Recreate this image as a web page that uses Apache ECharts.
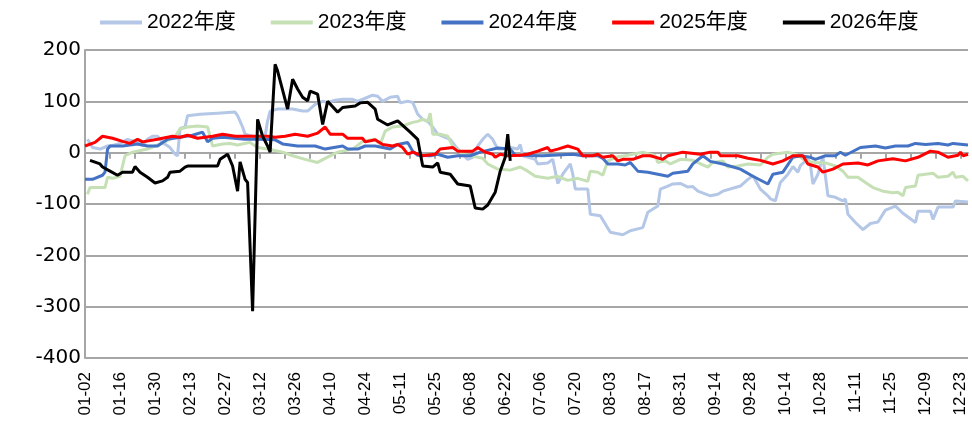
<!DOCTYPE html>
<html>
<head>
<meta charset="utf-8">
<script src="https://cdn.jsdelivr.net/npm/echarts@6/dist/echarts.min.js"></script>
<style>
    html, body { margin: 0; padding: 0; background: #fff; }
    #main { width: 972px; height: 421px; }
</style>
</head>
<body>
<div id="main"></div>
<script>
    // x轴：按2024年日历（闰年）逐日，去掉几个节假日
    var firstDay = '2024-01-02', lastDay = '2024-12-26';
    var skipDays = ['04-04', '05-01', '05-02', '05-03', '10-01', '10-02'];

    var yMin = -400, yMax = 200, yStep = 100;

    var names = ['2022年度', '2023年度', '2024年度', '2025年度', '2026年度'];
    var colors = ['#b4c7e7', '#c5e0b4', '#4472c4', '#ff0000', '#000000'];

    // 每条线的折点 [分类序号, 数值]
    var y2022 = [[1,26],[3,10],[6,7],[9,13],[11,14],[14,18],[17,26],[19,23],[23,14],[25,26],[27,32],[29,32],[31,20],[34,10],[36,-3],[37,-6],[38,47],[40,50],[41,72],[46,75],[53,77],[60,79],[61,72],[63,50],[64,36],[67,32],[71,26],[72,32],[73,62],[74,81],[77,85],[83,85],[87,81],[89,81],[92,94],[95,100],[97,98],[100,102],[103,104],[107,104],[109,100],[112,106],[115,112],[117,110],[119,100],[122,108],[125,110],[126,97],[129,100],[131,98],[133,75],[135,65],[137,61],[139,50],[141,36],[143,32],[146,26],[148,13],[151,-3],[153,-13],[155,-9],[157,13],[159,26],[161,36],[163,26],[165,7],[167,7],[170,10],[173,7],[174,16],[175,-6],[180,-13],[181,-22],[185,-20],[187,-13],[189,-60],[191,-42],[194,-22],[195,-42],[196,-71],[201,-71],[202,-120],[206,-123],[210,-155],[215,-160],[218,-152],[223,-146],[225,-116],[229,-104],[230,-71],[233,-65],[235,-61],[238,-60],[241,-67],[243,-66],[245,-75],[250,-84],[253,-81],[255,-75],[262,-65],[265,-52],[267,-45],[270,-71],[273,-84],[274,-90],[276,-94],[278,-58],[281,-42],[283,-27],[285,-38],[286,-25],[289,-12],[290,-24],[291,-61],[293,-42],[295,-8],[297,-84],[300,-87],[303,-94],[304,-90],[305,-120],[308,-136],[311,-150],[314,-138],[317,-135],[320,-112],[324,-104],[327,-118],[332,-136],[333,-114],[338,-114],[339,-130],[341,-106],[347,-106],[348,-94],[353,-96]];

    var y2023 = [[1,-81],[2,-68],[8,-68],[9,-48],[11,-50],[14,-46],[15,-26],[16,-6],[19,1],[25,7],[28,13],[32,21],[36,32],[38,46],[41,50],[45,52],[49,50],[51,13],[55,17],[58,18],[61,15],[66,20],[69,10],[73,7],[79,1],[83,-6],[88,-13],[93,-19],[96,-11],[101,1],[107,7],[111,22],[116,26],[118,16],[120,42],[123,50],[127,52],[131,59],[133,61],[135,65],[137,61],[138,77],[139,36],[142,36],[145,32],[147,13],[151,-3],[154,-6],[159,-11],[161,-22],[165,-32],[170,-34],[174,-28],[177,-36],[180,-46],[185,-50],[189,-46],[193,-54],[197,-50],[201,-56],[202,-36],[205,-38],[207,-44],[209,-16],[212,-9],[217,-5],[223,1],[228,-6],[229,-19],[232,-16],[234,-22],[238,-13],[243,-15],[249,-28],[251,-19],[255,-16],[257,-28],[261,-26],[265,-22],[270,-24],[273,-9],[275,-3],[281,1],[285,-5],[288,-16],[292,-19],[296,-20],[300,-26],[303,-36],[305,-48],[309,-48],[312,-58],[315,-68],[319,-75],[323,-78],[325,-77],[327,-84],[328,-68],[332,-65],[333,-44],[339,-40],[341,-48],[345,-46],[347,-38],[348,-48],[351,-46],[353,-55]];

    var y2024 = [[0,-52],[3,-52],[7,-44],[8,-38],[9,7],[10,13],[15,13],[18,15],[21,17],[25,13],[29,13],[33,26],[38,30],[43,34],[47,40],[49,21],[51,28],[55,30],[64,26],[69,26],[76,25],[79,17],[85,13],[92,13],[96,7],[103,13],[105,7],[109,7],[112,13],[116,13],[119,10],[122,7],[125,16],[127,18],[129,20],[131,3],[133,-5],[138,-6],[141,-3],[145,-9],[149,-6],[154,-6],[158,1],[165,9],[170,7],[172,-5],[183,-6],[195,-3],[199,-6],[205,-6],[207,-11],[209,-22],[213,-22],[216,-24],[218,-19],[221,-36],[225,-38],[229,-42],[233,-46],[235,-40],[241,-36],[243,-22],[247,-6],[250,-17],[255,-22],[262,-32],[267,-46],[273,-61],[275,-42],[279,-38],[283,-9],[286,-6],[290,-9],[292,-13],[296,-6],[300,-6],[302,1],[304,-5],[310,10],[316,13],[320,9],[324,13],[329,13],[332,18],[336,16],[341,18],[345,15],[347,18],[353,15]];

    var y2025 = [[0,13],[4,20],[7,32],[11,28],[15,22],[18,18],[21,26],[23,21],[29,26],[35,32],[38,30],[41,34],[45,28],[51,32],[55,36],[60,32],[67,32],[73,32],[76,30],[80,32],[84,36],[89,32],[93,38],[96,50],[98,36],[103,36],[105,28],[111,28],[112,21],[116,25],[119,16],[123,13],[125,16],[127,10],[129,-3],[131,1],[135,-6],[140,-3],[142,7],[147,10],[149,3],[155,3],[157,10],[160,1],[163,-3],[164,-9],[166,-3],[169,-6],[174,-5],[177,-3],[181,3],[185,10],[186,3],[189,7],[193,13],[197,7],[199,-6],[203,-6],[205,-3],[207,-9],[211,-6],[213,-16],[215,-13],[219,-13],[223,-6],[226,-6],[231,-13],[233,-6],[239,1],[246,-3],[250,1],[253,1],[254,-6],[261,-6],[265,-11],[270,-15],[275,-22],[279,-16],[283,-6],[287,-6],[289,-22],[293,-28],[295,-38],[299,-32],[303,-22],[309,-20],[313,-24],[317,-16],[323,-12],[328,-16],[333,-9],[338,3],[341,1],[345,-9],[349,-5],[350,1],[351,-6],[353,-3]];

    var y2026 = [[2,-15],[6,-22],[7,-28],[10,-36],[13,-44],[15,-38],[19,-38],[20,-27],[22,-38],[25,-48],[28,-59],[31,-55],[33,-48],[34,-38],[38,-36],[40,-28],[41,-26],[53,-26],[54,-13],[57,-3],[59,-26],[61,-75],[62,-18],[64,-52],[65,-58],[67,-309],[69,65],[71,32],[73,13],[74,1],[76,172],[77,159],[81,85],[83,143],[85,124],[87,108],[89,101],[90,120],[93,114],[95,55],[97,100],[101,79],[103,88],[108,91],[110,97],[113,98],[116,85],[117,65],[121,54],[125,62],[130,40],[133,26],[135,-26],[139,-28],[141,-20],[142,-38],[146,-42],[149,-61],[154,-65],[156,-108],[159,-110],[161,-102],[164,-77],[166,-36],[168,-9],[169,36],[170,-16]];

    var allData = [y2022, y2023, y2024, y2025, y2026];

    // 生成日期分类
    var dates = [];
    var d = new Date(firstDay + 'T00:00:00');
    var end = new Date(lastDay + 'T00:00:00');
    while (d <= end) {
        var mm = ('0' + (d.getMonth() + 1)).slice(-2);
        var dd = ('0' + d.getDate()).slice(-2);
        var label = mm + '-' + dd;
        if (skipDays.indexOf(label) < 0) dates.push(label);
        d.setDate(d.getDate() + 1);
    }

    var gray = '#a6a6a6';
    var seriesList = [];
    for (var i = 0; i < names.length; i++) {
        seriesList.push({
            name: names[i],
            type: 'line',
            data: allData[i],
            symbol: 'none',
            smooth: false,
            lineStyle: { color: colors[i], width: 3 },
            itemStyle: { color: colors[i] },
            z: 2 + i
        });
    }

    var chart = echarts.init(document.getElementById('main'));
    var option = {
        animation: false,
        backgroundColor: '#fff',
        textStyle: { fontFamily: 'Liberation Sans, Noto Sans CJK SC, sans-serif' },
        legend: {
            data: names,
            left: 95,
            top: 7,
            icon: 'rect',
            itemWidth: 42,
            itemHeight: 4,
            itemGap: 35,
            textStyle: { fontSize: 21, color: '#000', fontFamily: 'Liberation Sans, Noto Sans CJK SC, sans-serif' }
        },
        grid: { left: 85, right: 4, top: 50, bottom: 63, outerBoundsMode: 'none' },
        xAxis: [
            {
                // 日期标签放在底部
                type: 'category',
                data: dates,
                boundaryGap: false,
                axisLine: { show: false, onZero: false },
                axisTick: { show: false },
                axisLabel: {
                    interval: 13,
                    rotate: 90,
                    margin: 14,
                    fontSize: 17,
                    color: '#000',
                    fontFamily: 'Liberation Sans'
                }
            },
            {
                // 0 处的横轴线和刻度
                type: 'category',
                data: dates,
                boundaryGap: false,
                position: 'bottom',
                axisLine: { show: true, onZero: true, onZeroAxisIndex: 0, lineStyle: { color: gray, width: 2 } },
                axisTick: { show: true, interval: 9, inside: false, length: 6, lineStyle: { color: gray, width: 2 } },
                axisLabel: { show: false }
            }
        ],
        yAxis: {
            type: 'value',
            min: yMin,
            max: yMax,
            interval: yStep,
            axisLine: { show: true, lineStyle: { color: gray, width: 2 } },
            axisTick: { show: false },
            axisLabel: { fontSize: 20, color: '#000', margin: 4, fontFamily: 'DejaVu Sans' },
            splitLine: { lineStyle: { color: gray, width: 2 } }
        },
        series: seriesList
    };
    chart.setOption(option);
</script>
</body>
</html>
